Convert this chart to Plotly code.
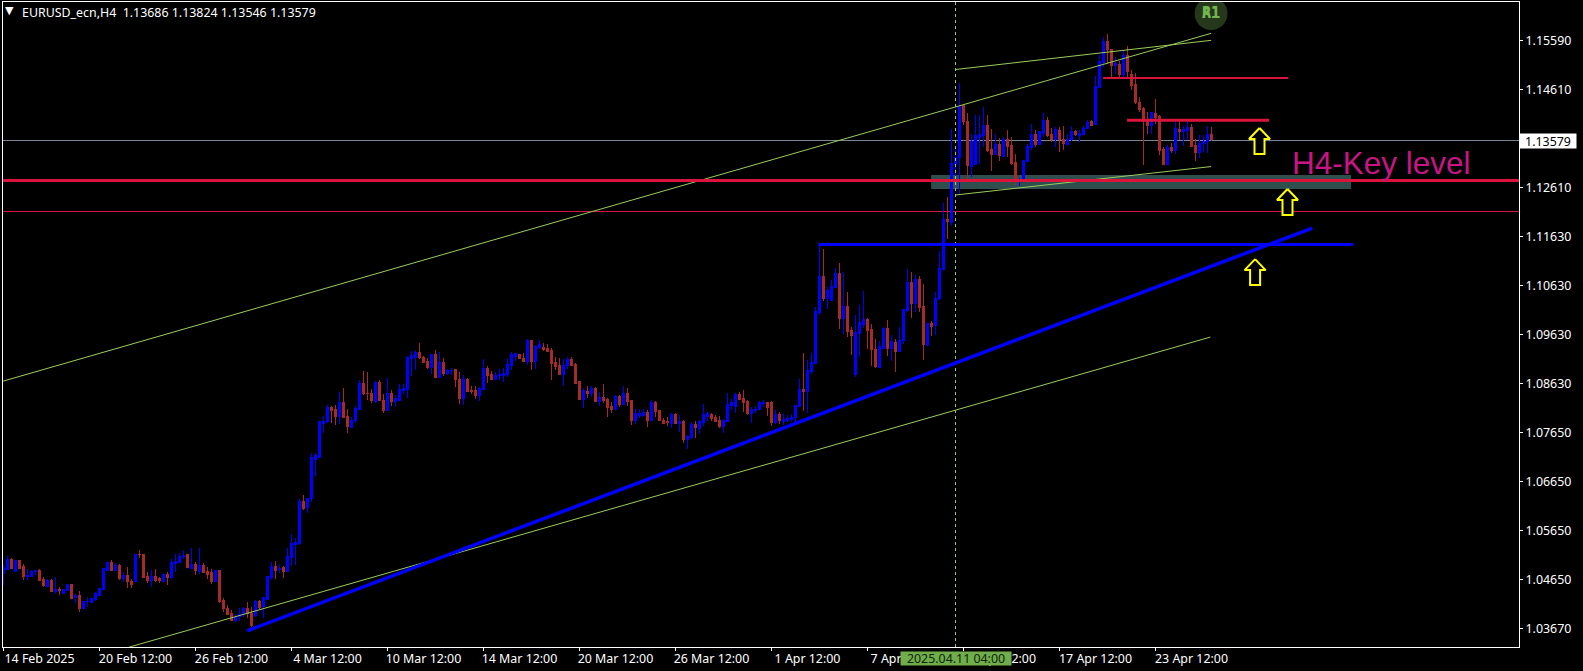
import plotly.graph_objects as go

# Each row is one 4-hour bar: open, high, low, close
bars_feb = [
(1.0476,1.0496,1.0452,1.0488),(1.0484,1.0512,1.0484,1.0504),(1.0505,1.0507,1.0484,1.0486),(1.0480,1.0504,1.0480,1.0503),
(1.0503,1.0504,1.0484,1.0486),(1.0489,1.0495,1.0463,1.0470),(1.0470,1.0484,1.0463,1.0472),(1.0470,1.0482,1.0469,1.0480),
(1.0480,1.0482,1.0472,1.0482),(1.0481,1.0484,1.0460,1.0462),(1.0464,1.0469,1.0448,1.0452),(1.0450,1.0465,1.0448,1.0462),
(1.0462,1.0464,1.0438,1.0440),(1.0439,1.0469,1.0435,1.0443),(1.0443,1.0448,1.0432,1.0441),(1.0435,1.0443,1.0435,1.0443),
(1.0441,1.0455,1.0441,1.0454),(1.0454,1.0455,1.0424,1.0425),(1.0426,1.0434,1.0415,1.0432),(1.0432,1.0440,1.0397,1.0405),
(1.0405,1.0420,1.0405,1.0419),(1.0418,1.0428,1.0408,1.0419),(1.0417,1.0426,1.0416,1.0425),(1.0423,1.0438,1.0419,1.0435),
(1.0432,1.0447,1.0430,1.0445),(1.0443,1.0487,1.0443,1.0486),(1.0482,1.0499,1.0481,1.0498),(1.0499,1.0503,1.0481,1.0481),
(1.0482,1.0498,1.0482,1.0491),(1.0491,1.0496,1.0462,1.0465),(1.0465,1.0479,1.0459,1.0472),(1.0472,1.0489,1.0447,1.0459),
(1.0460,1.0465,1.0447,1.0454),(1.0459,1.0516,1.0459,1.0515),(1.0515,1.0524,1.0507,1.0514),(1.0515,1.0515,1.0468,1.0468),
(1.0470,1.0479,1.0457,1.0462),(1.0462,1.0482,1.0448,1.0470),(1.0470,1.0484,1.0459,1.0462),(1.0465,1.0468,1.0457,1.0461),
(1.0460,1.0477,1.0459,1.0474),(1.0474,1.0479,1.0452,1.0468),(1.0468,1.0506,1.0465,1.0499),(1.0496,1.0516,1.0479,1.0501),
(1.0499,1.0518,1.0499,1.0511),(1.0510,1.0523,1.0506,1.0513),(1.0514,1.0515,1.0486,1.0487),(1.0486,1.0528,1.0484,1.0495),
(1.0495,1.0499,1.0472,1.0481),(1.0480,1.0527,1.0475,1.0491),(1.0491,1.0497,1.0476,1.0478),(1.0480,1.0488,1.0465,1.0474),
(1.0477,1.0484,1.0455,1.0460),(1.0460,1.0482,1.0460,1.0482),(1.0482,1.0482,1.0415,1.0419),(1.0421,1.0425,1.0397,1.0404),
(1.0405,1.0411,1.0391,1.0393),(1.0394,1.0401,1.0381,1.0381),(1.0381,1.0393,1.0377,1.0386),(1.0388,1.0405,1.0379,1.0393),
(1.0393,1.0408,1.0388,1.0405),(1.0405,1.0417,1.0386,1.0394),(1.0394,1.0408,1.0367,1.0369),(1.0391,1.0421,1.0388,1.0418),
(1.0418,1.0421,1.0404,1.0407),(1.0408,1.0426,1.0385,1.0426),(1.0423,1.0470,1.0423,1.0470),(1.0467,1.0499,1.0462,1.0489),
(1.0489,1.0501,1.0464,1.0482),(1.0484,1.0496,1.0477,1.0486),(1.0487,1.0491,1.0467,1.0479),(1.0479,1.0527,1.0479,1.0511),
(1.0508,1.0557,1.0491,1.0537),(1.0535,1.0547,1.0493,1.0539),
]
bars_mar = [
(1.0537,1.0627,1.0533,1.0623),(1.0623,1.0635,1.0604,1.0608),(1.0609,1.0629,1.0599,1.0629),(1.0628,1.0720,1.0621,1.0711),
(1.0708,1.0720,1.0673,1.0715),(1.0711,1.0784,1.0711,1.0784),(1.0781,1.0795,1.0762,1.0785),(1.0784,1.0818,1.0782,1.0814),
(1.0814,1.0817,1.0782,1.0806),(1.0810,1.0818,1.0777,1.0795),(1.0795,1.0844,1.0779,1.0824),(1.0824,1.0852,1.0791,1.0793),
(1.0795,1.0810,1.0762,1.0775),(1.0773,1.0794,1.0773,1.0787),(1.0787,1.0816,1.0782,1.0812),(1.0810,1.0870,1.0810,1.0861),
(1.0861,1.0887,1.0838,1.0842),(1.0842,1.0886,1.0828,1.0841),(1.0842,1.0850,1.0823,1.0828),(1.0826,1.0867,1.0823,1.0863),
(1.0863,1.0869,1.0826,1.0828),(1.0828,1.0840,1.0802,1.0806),(1.0806,1.0873,1.0806,1.0841),(1.0842,1.0848,1.0816,1.0826),
(1.0826,1.0838,1.0814,1.0832),(1.0828,1.0861,1.0828,1.0850),(1.0848,1.0860,1.0840,1.0852),(1.0850,1.0918,1.0832,1.0915),
(1.0913,1.0928,1.0877,1.0918),(1.0915,1.0930,1.0890,1.0924),(1.0924,1.0945,1.0911,1.0915),(1.0915,1.0918,1.0903,1.0905),
(1.0907,1.0913,1.0892,1.0894),(1.0895,1.0920,1.0882,1.0920),(1.0920,1.0930,1.0873,1.0874),(1.0875,1.0926,1.0873,1.0905),
(1.0905,1.0913,1.0877,1.0882),(1.0883,1.0892,1.0880,1.0889),(1.0888,1.0894,1.0879,1.0889),(1.0890,1.0891,1.0854,1.0871),
(1.0871,1.0886,1.0821,1.0832),(1.0832,1.0879,1.0818,1.0871),(1.0871,1.0873,1.0844,1.0846),(1.0848,1.0857,1.0840,1.0846),
(1.0848,1.0857,1.0830,1.0838),(1.0837,1.0854,1.0826,1.0852),(1.0850,1.0911,1.0848,1.0893),(1.0893,1.0897,1.0862,1.0879),
(1.0881,1.0887,1.0869,1.0871),(1.0871,1.0886,1.0869,1.0879),(1.0879,1.0892,1.0870,1.0881),(1.0879,1.0894,1.0865,1.0883),
(1.0881,1.0911,1.0875,1.0901),(1.0899,1.0926,1.0889,1.0920),(1.0917,1.0924,1.0907,1.0922),(1.0920,1.0922,1.0911,1.0913),
(1.0913,1.0923,1.0905,1.0907),(1.0907,1.0953,1.0899,1.0950),(1.0950,1.0951,1.0889,1.0907),(1.0907,1.0940,1.0892,1.0938),
(1.0936,1.0950,1.0933,1.0942),(1.0936,1.0945,1.0928,1.0932),(1.0934,1.0943,1.0925,1.0926),(1.0928,1.0935,1.0869,1.0903),
(1.0905,1.0915,1.0889,1.0897),(1.0899,1.0913,1.0879,1.0881),(1.0881,1.0911,1.0856,1.0899),(1.0899,1.0915,1.0892,1.0911),
(1.0911,1.0915,1.0898,1.0899),(1.0901,1.0903,1.0861,1.0862),(1.0865,1.0866,1.0828,1.0829),
]
bars_late_mar = [
(1.0829,1.0852,1.0812,1.0848),(1.0846,1.0857,1.0833,1.0842),(1.0842,1.0857,1.0835,1.0852),(1.0852,1.0854,1.0825,1.0826),
(1.0826,1.0844,1.0816,1.0833),(1.0833,1.0861,1.0823,1.0828),(1.0829,1.0833,1.0794,1.0814),(1.0816,1.0825,1.0802,1.0810),
(1.0810,1.0838,1.0808,1.0836),(1.0836,1.0838,1.0814,1.0820),(1.0820,1.0857,1.0820,1.0842),(1.0842,1.0852,1.0817,1.0826),
(1.0828,1.0829,1.0777,1.0787),(1.0787,1.0811,1.0779,1.0800),(1.0797,1.0811,1.0791,1.0800),(1.0796,1.0811,1.0793,1.0802),
(1.0802,1.0808,1.0773,1.0787),(1.0787,1.0829,1.0787,1.0824),(1.0824,1.0826,1.0794,1.0804),(1.0806,1.0808,1.0785,1.0787),
(1.0787,1.0791,1.0779,1.0781),(1.0785,1.0794,1.0775,1.0783),(1.0781,1.0801,1.0772,1.0798),(1.0798,1.0801,1.0779,1.0781),
(1.0781,1.0798,1.0764,1.0785),(1.0785,1.0787,1.0740,1.0749),(1.0749,1.0757,1.0728,1.0755),(1.0752,1.0784,1.0750,1.0779),
(1.0779,1.0785,1.0751,1.0773),(1.0771,1.0787,1.0759,1.0785),(1.0783,1.0820,1.0775,1.0798),(1.0795,1.0804,1.0786,1.0800),
(1.0798,1.0801,1.0785,1.0791),(1.0793,1.0798,1.0783,1.0785),(1.0787,1.0796,1.0771,1.0775),(1.0775,1.0789,1.0762,1.0787),
(1.0785,1.0843,1.0783,1.0820),(1.0818,1.0831,1.0808,1.0824),(1.0816,1.0842,1.0801,1.0840),(1.0840,1.0845,1.0828,1.0830),
(1.0832,1.0848,1.0804,1.0824),(1.0826,1.0828,1.0797,1.0800),(1.0800,1.0814,1.0781,1.0810),(1.0808,1.0816,1.0801,1.0810),
(1.0810,1.0827,1.0808,1.0824),(1.0822,1.0828,1.0814,1.0824),(1.0824,1.0825,1.0796,1.0814),(1.0824,1.0826,1.0775,1.0783),
(1.0783,1.0808,1.0779,1.0798),(1.0798,1.0804,1.0779,1.0787),(1.0785,1.0801,1.0777,1.0789),(1.0787,1.0798,1.0783,1.0791),
(1.0789,1.0800,1.0783,1.0793),(1.0793,1.0818,1.0784,1.0818),(1.0816,1.0871,1.0814,1.0850),
]
bars_early_apr = [
(1.0850,1.0923,1.0807,1.0846),(1.0846,1.0909,1.0802,1.0889),(1.0887,1.0923,1.0881,1.0905),(1.0903,1.1018,1.0903,1.1009),
(1.1007,1.1143,1.1001,1.1080),(1.1080,1.1135,1.1029,1.1035),(1.1035,1.1058,1.1013,1.1050),(1.1031,1.1072,1.1031,1.1060),
(1.1058,1.1096,1.1056,1.1086),(1.1086,1.1106,1.0972,1.0993),(1.0993,1.1088,1.0962,1.1019),(1.1019,1.1047,1.0956,1.0968),
(1.0970,1.0977,1.0919,1.0960),(1.0881,1.1001,1.0875,1.0966),(1.0964,1.1021,1.0916,1.0985),(1.0982,1.1050,1.0974,1.0991),
(1.0991,1.0995,1.0932,1.0970),(1.0972,1.0982,1.0897,1.0930),(1.0932,1.0952,1.0893,1.0897),(1.0895,1.0948,1.0894,1.0938),
(1.0934,1.0977,1.0934,1.0974),(1.0974,1.0991,1.0917,1.0934),(1.0934,1.0960,1.0907,1.0948),(1.0946,1.0953,1.0885,1.0926),
(1.0926,1.0977,1.0926,1.0950),(1.0950,1.1014,1.0943,1.1013),(1.1011,1.1094,1.1007,1.1068),(1.1068,1.1088,1.0995,1.1025),
(1.1025,1.1082,1.1007,1.1074),(1.1074,1.1080,1.1007,1.1017),(1.1019,1.1064,1.0909,1.0942),(1.0940,1.0984,1.0940,1.0984),
(1.0984,1.0989,1.0958,1.0978),(1.0980,1.1048,1.0960,1.1035),(1.1035,1.1132,1.1031,1.1096),(1.1094,1.1229,1.1094,1.1196),
(1.1196,1.1241,1.1155,1.1192),
]
bars_late_apr = [
(1.1190,1.1380,1.1182,1.1309),(1.1308,1.1343,1.1275,1.1321),(1.1321,1.1472,1.1245,1.1424),(1.1426,1.1426,1.1387,1.1394),
(1.1395,1.1411,1.1275,1.1304),(1.1302,1.1370,1.1281,1.1353),(1.1308,1.1407,1.1308,1.1365),(1.1362,1.1407,1.1309,1.1367),
(1.1365,1.1424,1.1343,1.1387),(1.1387,1.1407,1.1333,1.1336),(1.1338,1.1380,1.1294,1.1328),(1.1328,1.1369,1.1326,1.1348),
(1.1348,1.1360,1.1315,1.1326),(1.1324,1.1363,1.1323,1.1358),(1.1357,1.1378,1.1323,1.1344),(1.1346,1.1362,1.1306,1.1310),
(1.1312,1.1328,1.1265,1.1275),(1.1272,1.1279,1.1263,1.1277),(1.1275,1.1317,1.1275,1.1316),(1.1314,1.1348,1.1312,1.1344),
(1.1342,1.1390,1.1336,1.1369),(1.1369,1.1378,1.1342,1.1348),(1.1348,1.1376,1.1348,1.1375),(1.1370,1.1411,1.1363,1.1397),
(1.1397,1.1404,1.1363,1.1365),(1.1367,1.1382,1.1353,1.1358),(1.1358,1.1384,1.1342,1.1378),(1.1377,1.1384,1.1333,1.1357),
(1.1357,1.1385,1.1336,1.1350),(1.1348,1.1370,1.1346,1.1358),(1.1357,1.1385,1.1355,1.1375),(1.1375,1.1377,1.1365,1.1367),
(1.1366,1.1377,1.1353,1.1371),(1.1369,1.1385,1.1367,1.1381),(1.1381,1.1397,1.1380,1.1393),(1.1395,1.1397,1.1385,1.1387),
(1.1389,1.1487,1.1389,1.1466),(1.1464,1.1529,1.1464,1.1517),(1.1515,1.1567,1.1506,1.1558),(1.1558,1.1572,1.1512,1.1540),
(1.1541,1.1541,1.1480,1.1508),(1.1508,1.1526,1.1491,1.1512),(1.1511,1.1518,1.1480,1.1489),(1.1489,1.1540,1.1482,1.1529),
(1.1529,1.1548,1.1482,1.1497),(1.1489,1.1499,1.1458,1.1468),(1.1470,1.1492,1.1430,1.1433),(1.1434,1.1445,1.1414,1.1418),
(1.1420,1.1424,1.1306,1.1394),(1.1394,1.1414,1.1369,1.1387),(1.1387,1.1414,1.1370,1.1413),(1.1411,1.1440,1.1389,1.1403),
(1.1405,1.1407,1.1326,1.1336),(1.1338,1.1343,1.1308,1.1308),(1.1308,1.1346,1.1306,1.1342),(1.1342,1.1351,1.1331,1.1336),
(1.1336,1.1393,1.1329,1.1381),(1.1379,1.1393,1.1357,1.1375),(1.1375,1.1386,1.1345,1.1379),(1.1377,1.1393,1.1357,1.1383),
(1.1383,1.1389,1.1344,1.1344),(1.1346,1.1358,1.1314,1.1332),(1.1332,1.1367,1.1321,1.1350),(1.1350,1.1367,1.1333,1.1353),
(1.1353,1.1386,1.1331,1.1369),(1.13686,1.13824,1.13546,1.13579),
]
bars = bars_feb + bars_mar + bars_late_mar + bars_early_apr + bars_late_apr
bar_index = list(range(len(bars)))
open_ = [b[0] for b in bars]
high_ = [b[1] for b in bars]
low_ = [b[2] for b in bars]
close_ = [b[3] for b in bars]

x_tick_bars = [24 * k for k in range(13)]
x_tick_labels = ["14 Feb 2025", "20 Feb 12:00", "26 Feb 12:00", "4 Mar 12:00", "10 Mar 12:00", "14 Mar 12:00",
                 "20 Mar 12:00", "26 Mar 12:00", "1 Apr 12:00", "7 Apr 12:00", "11 Apr 12:00", "17 Apr 12:00", "23 Apr 12:00"]
y_tick_labels = ["1.15590", "1.14610", "1.12610", "1.11630", "1.10630", "1.09630",
                 "1.08630", "1.07650", "1.06650", "1.05650", "1.04650", "1.03670"]
y_tick_levels = [1.15590, 1.14594, 1.12603, 1.11607, 1.10611, 1.09615,
                 1.08619, 1.07623, 1.06627, 1.05631, 1.04635, 1.03639]

last_price_text = "1.13579"
last_price_level = 1.13558
key_level = 1.12745
thin_level = 1.12115
cursor_bar = 238

X_MIN, X_MAX = -0.125, 378.875
Y_MIN, Y_MAX = 1.03263, 1.16373
GREEN = "#9acd5a"
BLUE = "#0000ff"
CRIMSON = "#dc143c"
YELLOW = "#ffff00"
FONT = "Noto Sans"

# (name, bars, prices, colour, width)
lines = [
    ("channel upper", [-0.1, 301.9], [1.08667, 1.15736], GREEN, 1),
    ("triangle upper", [237.9, 301.9], [1.15000, 1.15594], GREEN, 1),
    ("triangle lower", [237.9, 301.9], [1.12449, 1.13028], GREEN, 1),
    ("channel lower", [31.4, 301.7], [1.03260, 1.09562], GREEN, 1),
    ("blue trend", [60.9, 327.2], [1.03591, 1.11778], BLUE, 3.5),
    ("blue level", [203.7, 337.4], [1.11446, 1.11446], BLUE, 3),
    ("red level 1", [274.9, 321.2], [1.14827, 1.14827], CRIMSON, 2),
    ("red level 2", [280.9, 316.4], [1.13967, 1.13967], CRIMSON, 3),
    ("key level", [X_MIN, X_MAX], [key_level, key_level], CRIMSON, 3),
]

fig = go.Figure()
fig.add_trace(go.Candlestick(
    x=bar_index, open=open_, high=high_, low=low_, close=close_,
    increasing=dict(line=dict(color=BLUE, width=1), fillcolor=BLUE),
    decreasing=dict(line=dict(color="#a52a2a", width=1), fillcolor="#a52a2a"),
    whiskerwidth=0, showlegend=False, hoverinfo="skip",
))
fig.add_trace(go.Scatter(x=[cursor_bar, cursor_bar], y=[Y_MIN, Y_MAX], mode="lines",
                         line=dict(color=GREEN, width=1, dash="3px,3px"), showlegend=False, hoverinfo="skip"))
for name, xs, ys, color, width in lines:
    fig.add_trace(go.Scatter(x=xs, y=ys, mode="lines", name=name,
                             line=dict(color=color, width=width), showlegend=False, hoverinfo="skip"))

# Hollow up arrows: tip position in bars/price, outline drawn in pixels around it
arrow_tips = [(314.0, 1.13811), (321.0, 1.12571), (312.9, 1.11147)]
arrow_dx = [0, 10.5, 5, 5, -5, -5, -10.5, 0]
arrow_dy = [0, 11, 11, 26, 26, 11, 11, 0]
PX_PER_BAR = 4.0
PX_PER_PRICE = 4920.0
for tx, ty in arrow_tips:
    fig.add_trace(go.Scatter(
        x=[tx + d / PX_PER_BAR for d in arrow_dx],
        y=[ty - d / PX_PER_PRICE for d in arrow_dy],
        mode="lines", fill="toself", fillcolor="#000000",
        line=dict(color=YELLOW, width=2), showlegend=False, hoverinfo="skip"))

shapes = [
    dict(type="rect", layer="below", xref="x", yref="y", x0=231.9, x1=336.9, y0=1.12571, y1=1.12855,
         fillcolor="#2f4f4f", line=dict(width=0)),
    dict(type="line", layer="below", xref="x", yref="y", x0=X_MIN, x1=X_MAX, y0=last_price_level, y1=last_price_level,
         line=dict(color="#778899", width=1)),
    dict(type="line", layer="below", xref="x", yref="y", x0=X_MIN, x1=X_MAX, y0=thin_level, y1=thin_level,
         line=dict(color=CRIMSON, width=1)),
    dict(type="circle", layer="below", xref="x", yref="y", xsizemode="pixel", ysizemode="pixel",
         xanchor=301.9, yanchor=1.16138, x0=-16.5, x1=16.5, y0=-16.5, y1=16.5,
         fillcolor="#25381b", line=dict(width=0)),
]

annotations = [
    dict(xref="paper", yref="paper", x=0, y=1-9/645, xanchor="left", yanchor="middle", showarrow=False,
         text="▼", font=dict(family="DejaVu Sans", size=11, color="#ffffff")),
    dict(xref="paper", yref="paper", x=16.5/1516, y=1-10.5/645, xanchor="left", yanchor="middle", showarrow=False,
         text="EURUSD_ecn,H4  1.13686 1.13824 1.13546 1.13579", font=dict(family=FONT, size=12.4, color="#ffffff")),
    dict(xref="x", yref="y", x=321.5, y=1.13093, xanchor="left", yanchor="middle", showarrow=False,
         text="H4-Key level", font=dict(family="Liberation Sans", size=31.5, color="#c71585")),
    dict(xref="paper", yref="y", x=1.0003, y=last_price_level, xanchor="left", yanchor="middle", showarrow=False,
         text=last_price_text, bgcolor="#ffffff", width=56, height=14, borderpad=0,
         font=dict(family=FONT, size=12.4, color="#000000")),
    dict(xref="x", yref="paper", x=cursor_bar, y=0, yshift=-4, xanchor="center", yanchor="top", showarrow=False,
         text="2025.04.11 04:00", bgcolor="#6fae4b", width=110, height=13, borderpad=0,
         font=dict(family=FONT, size=12.4, color="#12220b")),
    dict(xref="x", yref="y", x=301.9, y=1.16153, xanchor="center", yanchor="middle", showarrow=False,
         text="<b>R1</b>", font=dict(family="DejaVu Sans Mono", size=15, color="#72b54e")),
    dict(xref="x", yref="y", x=301.9, y=1.16153, xanchor="center", yanchor="middle", showarrow=False,
         text="<b>A1</b>", font=dict(family="DejaVu Sans Mono", size=15, color="#72b54e")),
]

fig.update_layout(
    width=1583, height=671,
    margin=dict(l=3, r=64, t=2, b=24, autoexpand=False),
    paper_bgcolor="#000000", plot_bgcolor="#000000",
    boxgap=0.5,
    shapes=shapes, annotations=annotations, showlegend=False, dragmode=False,
    xaxis=dict(range=[X_MIN, X_MAX], rangeslider=dict(visible=False), showgrid=False, zeroline=False,
               tickmode="array", tickvals=x_tick_bars, ticktext=x_tick_labels, ticks="outside", ticklen=3,
               tickcolor="#ffffff", tickwidth=1, ticklabelshift=36, ticklabelstandoff=-3, tickangle=0,
               tickfont=dict(family=FONT, size=12.4, color="#ffffff"),
               showline=True, linecolor="#ffffff", linewidth=1, mirror=True),
    yaxis=dict(range=[Y_MIN, Y_MAX], side="right", showgrid=False, zeroline=False,
               tickmode="array", tickvals=y_tick_levels, ticktext=y_tick_labels, ticks="outside", ticklen=3,
               tickcolor="#ffffff", tickwidth=1,
               tickfont=dict(family=FONT, size=12.4, color="#ffffff"),
               showline=True, linecolor="#ffffff", linewidth=1, mirror=True),
)

fig.write_html("out.html", config=dict(displayModeBar=False, staticPlot=True),
               post_script="document.body.style.margin='0';document.body.style.background='#000';"
                           "document.head.insertAdjacentHTML('beforeend','<style>.boxes path{shape-rendering:crispEdges}</style>');")
